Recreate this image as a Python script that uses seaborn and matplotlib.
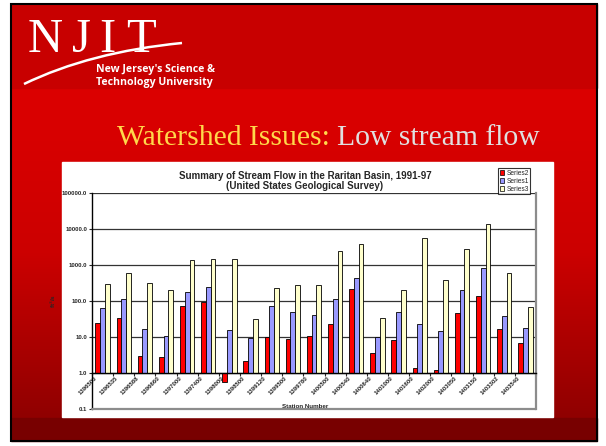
import numpy as np
import pandas as pd
import matplotlib.pyplot as plt
import seaborn as sns
from matplotlib.patches import Rectangle, PathPatch
from matplotlib.path import Path
from matplotlib.colors import LinearSegmentedColormap
from matplotlib.ticker import FixedLocator, NullLocator, FuncFormatter
import matplotlib.transforms as mtransforms

# station numbers and mean flows (ft3/s)
stations = ['1396500', '1396535', '1396588', '1396660', '1397000', '1397400', '1398000',
            '1398500', '1399120', '1399500', '1399780', '1400500', '1400540', '1400640',
            '1401000', '1401600', '1402000', '1403050', '1403150', '1403302', '1403540']
series2 = [25, 34, 3.0, 2.8, 74, 94, 0.55, 2.1, 9.8, 9.0, 11, 23, 210, 3.7, 8.1, 1.35, 1.19, 45, 138, 17, 6.7]
series1 = [65, 111, 17, 11, 180, 240, 15.6, 9.4, 74, 48, 42, 113, 445, 9.8, 48, 22.6, 15, 200, 810, 39, 17.4]
series3 = [290, 590, 320, 200, 1400, 1450, 1440, 31, 225, 280, 280, 2500, 3900, 34, 200, 5600, 380, 2700, 13800, 590, 67]
series_names = ['Series2', 'Series1', 'Series3']
series_colors = ['#ff0000', '#9999ff', '#ffffcc']

df = pd.DataFrame({
    'Station': stations * 3,
    'Flow': series2 + series1 + series3,
    'Series': [s for s in series_names for _ in stations],
})

sns.set_style('white')
plt.rcParams['font.family'] = ['Liberation Sans', 'DejaVu Sans']

fig = plt.figure(figsize=(6.06, 4.46), dpi=100)
fig.patch.set_facecolor('white')

# slide background in pixel coordinates
bg = fig.add_axes([0, 0, 1, 1])
bg.set_xlim(0, 606)
bg.set_ylim(446, 0)
bg.axis('off')

grad = np.linspace(0, 1, 200).reshape(-1, 1)
cmap = LinearSegmentedColormap.from_list('slide', ['#dc0000', '#cc0000', '#900000'])
bg.imshow(grad, extent=(11, 597, 418, 88), cmap=cmap, aspect='auto', zorder=0)
bg.add_patch(Rectangle((11, 4), 586, 84, color='#c80000', zorder=1))
bg.add_patch(Rectangle((11, 418), 586, 23, color='#780000', zorder=1))
bg.add_patch(Rectangle((11, 4), 586, 437, fill=False, edgecolor='black', lw=1.5, zorder=5))

# NJIT logo
for letter, lx in zip('NJIT', [28, 72, 99, 126]):
    bg.text(lx, 52, letter, fontsize=35, family='Liberation Serif', color='white',
            ha='left', va='baseline', zorder=3)
swoosh = Path([(24, 84), (90, 52), (182, 43)], [Path.MOVETO, Path.CURVE3, Path.CURVE3])
bg.add_patch(PathPatch(swoosh, fill=False, edgecolor='white', lw=1.8, zorder=3))
bg.text(96, 72, "New Jersey's Science &", fontsize=7.6, weight='bold', color='white',
        family='Open Sans', va='baseline', zorder=3)
bg.text(96, 85, 'Technology University', fontsize=7.6, weight='bold', color='white',
        family='Open Sans', va='baseline', zorder=3)

# slide title, second part placed after the first
t1 = bg.text(117, 145, 'Watershed Issues:', fontsize=21.3, family='Liberation Serif',
             color='#ffd84a', va='baseline', zorder=3)
fig.canvas.draw()
ext = t1.get_window_extent()
x_end = bg.transData.inverted().transform((ext.x1, ext.y0))[0]
bg.text(x_end + 7, 145, 'Low stream flow', fontsize=21.3, family='Liberation Serif',
        color='#e0e0e0', va='baseline', zorder=3)

# white chart panel
bg.add_patch(Rectangle((62, 162), 491, 255, color='white', zorder=2))
bg.text(305, 179, 'Summary of Stream Flow in the Raritan Basin, 1991-97', ha='center',
        fontsize=7, weight='bold', zorder=3)
bg.text(305, 189, '(United States Geological Survey)', ha='center',
        fontsize=7, weight='bold', zorder=3)

# chart
ax = fig.add_axes([92 / 606, 37 / 446, 444 / 606, 216 / 446])
ax.patch.set_alpha(0)
sns.barplot(data=df, x='Station', y='Flow', hue='Series', hue_order=series_names,
            palette=series_colors, width=0.68, gap=0, edgecolor='black', linewidth=0.6,
            saturation=1, ax=ax)

# Excel crosses the category axis at 1.0: bars grow from 1 up or down
for container in ax.containers:
    for bar in container:
        h = bar.get_height()
        bar.set_y(1)
        bar.set_height(h - 1)

ax.set_yscale('log')
ax.set_ylim(0.1, 100000)
ax.set_xlim(-0.5, len(stations) - 0.5)
ax.yaxis.set_major_locator(FixedLocator([0.1, 1, 10, 100, 1000, 10000, 100000]))
ax.yaxis.set_minor_locator(NullLocator())
ax.yaxis.set_major_formatter(FuncFormatter(lambda v, p: f'{v:.1f}'))
ax.yaxis.grid(True, color='#333333', lw=0.9)
ax.set_axisbelow(True)

ax.spines['top'].set_visible(False)
ax.spines['right'].set_color('#8c8c8c')
ax.spines['right'].set_linewidth(1.6)
ax.spines['left'].set_color('black')
ax.spines['left'].set_linewidth(1.0)
ax.spines['bottom'].set_position(('data', 1))
ax.spines['bottom'].set_color('black')
ax.spines['bottom'].set_linewidth(1.0)
ax.axhline(0.1, color='#8c8c8c', lw=1.6, clip_on=False, zorder=3)

ax.tick_params(axis='y', which='major', length=2.5, width=0.8, direction='out',
               labelsize=4.3, pad=1, left=True)
ax.tick_params(axis='x', which='major', length=0, labelsize=4.3, pad=2)
ax.xaxis.set_minor_locator(FixedLocator(np.arange(-0.5, len(stations), 1.0)))
ax.tick_params(axis='x', which='minor', length=2.5, width=0.8, direction='out', bottom=True)
for lab in ax.get_yticklabels():
    lab.set_fontweight('bold')
offset = mtransforms.ScaledTranslation(-8 / 100, 0, fig.dpi_scale_trans)
for lab in ax.get_xticklabels():
    lab.set_rotation(45)
    lab.set_ha('right')
    lab.set_rotation_mode('anchor')
    lab.set_fontweight('bold')
    lab.set_transform(lab.get_transform() + offset)

ax.set_xlabel('')
ax.set_ylabel('ft$^3$/s', fontsize=4.5, weight='bold', labelpad=3)
ax.text(0.48, 0.1, 'Station Number', transform=ax.get_yaxis_transform(), ha='center',
        va='bottom', fontsize=4.5, weight='bold', zorder=4)

handles, labels = ax.get_legend_handles_labels()
ax.get_legend().remove()
leg = fig.legend(handles, labels, loc='upper left', bbox_to_anchor=(498 / 606, 1 - 168 / 446),
                 frameon=True, fancybox=False, edgecolor='black', fontsize=4.8,
                 handlelength=0.7, handleheight=0.7, borderpad=0.25, labelspacing=0.15,
                 handletextpad=0.3, borderaxespad=0)
leg.get_frame().set_linewidth(0.8)
for p in leg.get_patches():
    p.set_edgecolor('black')
    p.set_linewidth(0.5)

fig.savefig('out.png', dpi=100, facecolor='white')
